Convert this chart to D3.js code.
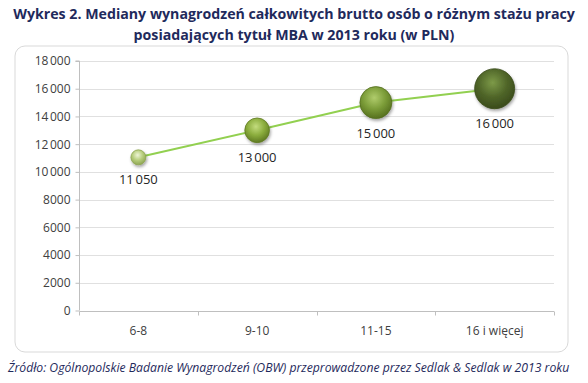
<!DOCTYPE html>
<html><head><meta charset="utf-8">
<script src="https://cdn.jsdelivr.net/npm/d3@7"></script>
<style>body{margin:0;background:#fff}svg{display:block}</style>
</head><body>
<svg id="c" width="588" height="383"></svg>
<script>
const categories = ["6-8", "9-10", "11-15", "16 i więcej"];
const values = [11050, 13000, 15000, 16000];
const bubbleSizes = [1, 2.7, 4.55, 7.1];
const valueLabels = ["11\u202F050", "13\u202F000", "15\u202F000", "16\u202F000"];
const yTicks = [0, 2000, 4000, 6000, 8000, 10000, 12000, 14000, 16000, 18000];
const yTickLabels = ["0", "2000", "4000", "6000", "8000", "10\u202F000", "12\u202F000", "14\u202F000", "16\u202F000", "18\u202F000"];
const titleLines = ["Wykres 2. Mediany wynagrodzeń całkowitych brutto osób o różnym stażu pracy", "posiadających tytuł MBA w 2013 roku (w PLN)"];
const sourceText = "Źródło: Ogólnopolskie Badanie Wynagrodzeń (OBW) przeprowadzone przez  Sedlak & Sedlak w 2013 roku";

const svg = d3.select("#c");
const font = "'Open Sans', 'Noto Sans', sans-serif";
const colors = [["#eef5d6","#b5cc7a","#8ea553"],["#c3dc7e","#8aac3c","#5f7a22"],["#b0cc6c","#7b9c38","#56701f"],["#7d9a48","#506629","#3a4b1b"]];

const defs = svg.append("defs");
colors.forEach((c,i)=>{
  const g = defs.append("radialGradient").attr("id","g"+i).attr("cx","45%").attr("cy","35%").attr("r","65%");
  g.append("stop").attr("offset","0%").attr("stop-color",c[0]);
  g.append("stop").attr("offset","55%").attr("stop-color",c[1]);
  g.append("stop").attr("offset","100%").attr("stop-color",c[2]);
});
const f = defs.append("filter").attr("id","sh").attr("x","-50%").attr("y","-50%").attr("width","200%").attr("height","200%");
f.append("feDropShadow").attr("dx",1).attr("dy",2).attr("stdDeviation",1.5).attr("flood-color","#000").attr("flood-opacity",0.35);

// title
svg.selectAll("text.title").data(titleLines).enter().append("text")
  .attr("x", 294).attr("y",(d,i)=>19+i*21).attr("text-anchor","middle")
  .attr("font-family",font).attr("font-weight","bold").attr("font-size",14.2)
  .attr("fill","#1f2a5c").text(d=>d);

// frame
svg.append("rect").attr("x",15).attr("y",46).attr("width",553).attr("height",306)
  .attr("rx",10).attr("fill","#fff").attr("stroke","#d9d9d9").attr("stroke-width",1);

const x = d3.scaleBand().domain(categories).range([79,554]);
const y = d3.scaleLinear().domain([0,18000]).range([310.5,61]);
const r = d3.scaleSqrt().domain([0,1]).range([0,7.5]);

// gridlines
svg.append("g").selectAll("line").data(yTicks.slice(1)).enter().append("line")
  .attr("x1",79).attr("x2",554).attr("y1",d=>Math.round(y(d))+0.5).attr("y2",d=>Math.round(y(d))+0.5)
  .attr("stroke","#e0e0e0").attr("stroke-width",1);

// y axis
const yAxis = d3.axisLeft(y).tickValues(yTicks).tickFormat((d,i)=>yTickLabels[i]).tickSize(4).tickPadding(5);
const ya = svg.append("g").attr("transform","translate(79.5,0)").call(yAxis);
ya.select(".domain").attr("stroke","#bfbfbf").attr("d","M-4,"+y(18000)+"H0V"+y(0));
ya.selectAll(".tick line").attr("stroke","#bfbfbf");
ya.selectAll("text").attr("font-family",font).attr("font-size",12).attr("fill","#404040");

// x axis
const xAxis = d3.axisBottom(x).tickSize(0).tickPadding(15);
const xa = svg.append("g").attr("transform","translate(0,"+(Math.round(y(0))+0.5)+")").call(xAxis);
xa.select(".domain").attr("stroke","#bfbfbf").attr("d","M79.5,0H554");
xa.selectAll("text").attr("font-family",font).attr("font-size",12).attr("fill","#404040");
const bounds = [79,...categories.map(c=>x(c)+x.bandwidth())];
xa.selectAll("line.tk").data(bounds).enter().append("line").attr("class","tk")
  .attr("x1",d=>Math.round(d)+0.5).attr("x2",d=>Math.round(d)+0.5).attr("y1",0).attr("y2",4)
  .attr("stroke","#bfbfbf");

// line
const cx = c=>x(c)+x.bandwidth()/2;
const line = d3.line().x((d,i)=>cx(categories[i])).y(d=>y(d));
svg.append("path").attr("d",line(values)).attr("fill","none").attr("stroke","#92d050").attr("stroke-width",2);

// bubbles
svg.append("g").selectAll("circle").data(values).enter().append("circle")
  .attr("cx",(d,i)=>cx(categories[i])).attr("cy",d=>y(d)).attr("r",(d,i)=>r(bubbleSizes[i]))
  .attr("fill",(d,i)=>"url(#g"+i+")").attr("stroke",(d,i)=>colors[i][2]).attr("stroke-width",0.8)
  .attr("filter","url(#sh)");

// value labels
svg.append("g").selectAll("text").data(values).enter().append("text")
  .attr("x",(d,i)=>cx(categories[i])).attr("y",(d,i)=>y(d)+r(bubbleSizes[i])+19)
  .attr("text-anchor","middle").attr("font-family",font).attr("font-size",13).attr("fill","#262626")
  .text((d,i)=>valueLabels[i]);

// source
svg.append("text").attr("x",8).attr("y",372).attr("font-family",font).attr("font-style","italic")
  .attr("font-size",12.2).attr("fill","#1f2a5c").text(sourceText);
</script>
</body></html>
